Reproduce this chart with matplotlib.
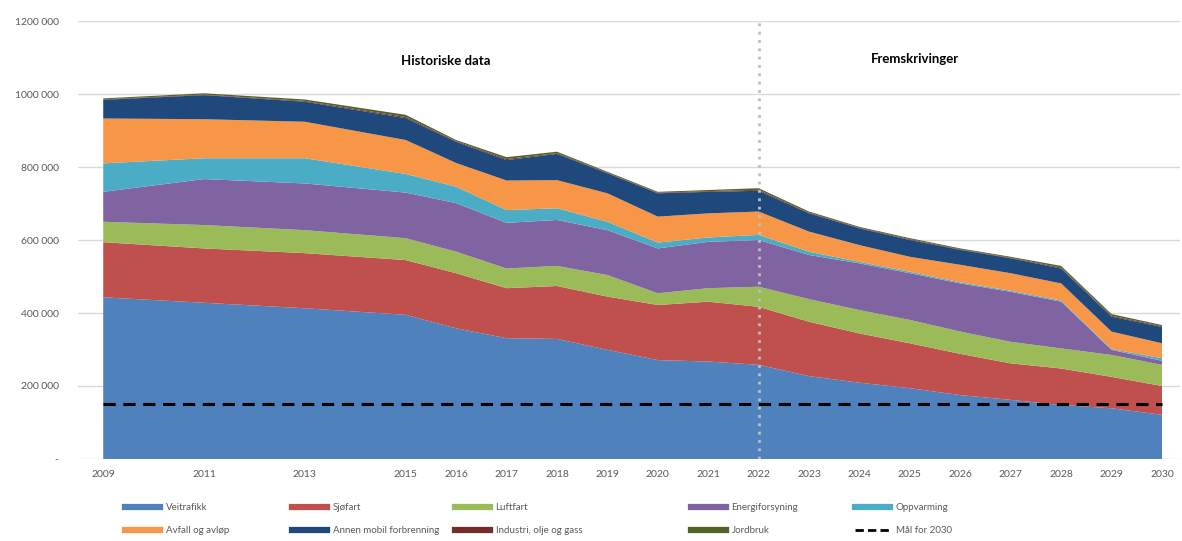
import matplotlib
matplotlib.use("Agg")
import matplotlib.pyplot as plt
from matplotlib.lines import Line2D
from matplotlib.ticker import FuncFormatter

plt.rcParams["font.family"] = ["Lato", "DejaVu Sans"]

# Data (tonn CO2-ekv.)
years = [2009, 2011, 2013, 2015, 2016, 2017, 2018, 2019, 2020, 2021, 2022,
         2023, 2024, 2025, 2026, 2027, 2028, 2029, 2030]
tick_years = years

veitrafikk = [443000, 428000, 413000, 395000, 358000, 331000, 329000, 299000, 271000, 267000,
              258000, 227000, 209000, 194000, 175000, 162000, 148000, 139000, 121000]
sjofart = [151000, 149000, 151000, 150000, 151000, 137000, 145000, 146000, 151000, 164000,
           159000, 149000, 135000, 123000, 113000, 100000, 100000, 86000, 79000]
luftfart = [56000, 64000, 63000, 60000, 59000, 54000, 55000, 59000, 32000, 37000,
            55000, 62000, 64000, 64000, 61000, 59000, 55000, 60000, 58000]
energiforsyning = [82000, 126000, 128000, 125000, 133000, 125000, 126000, 123000, 123000, 127000,
                   128000, 121000, 128000, 128000, 132000, 137000, 128000, 14000, 11000]
oppvarming = [78000, 57000, 69000, 51000, 45000, 35000, 32000, 23000, 16000, 12000,
              14000, 9000, 4000, 4000, 3000, 3000, 3000, 2000, 7000]
avfall = [123000, 107000, 100000, 93000, 65000, 81000, 77000, 78000, 71000, 66000,
          64000, 55000, 46000, 41000, 48000, 48000, 47000, 48000, 41000]
annen_mobil = [51000, 66000, 55000, 60000, 58000, 56000, 72000, 55000, 64000, 59000,
               57000, 50000, 46000, 46000, 41000, 41000, 41000, 41000, 45000]
industri = [1500, 1500, 2000, 3000, 2000, 3000, 2000, 1500, 1500, 2000,
            2500, 2000, 1500, 2000, 1500, 1500, 2500, 2500, 2000]
jordbruk = [2500, 3500, 4000, 6000, 3000, 5000, 4000, 2500, 2500, 3000,
            4500, 3000, 2500, 3000, 2500, 2500, 4500, 4500, 3000]

target_2030 = 150000
split_year = 2022

labels = ["Veitrafikk", "Sjøfart", "Luftfart", "Energiforsyning", "Oppvarming",
          "Avfall og avløp", "Annen mobil forbrenning", "Industri, olje og gass", "Jordbruk"]
colors = ["#4F81BD", "#C0504D", "#9BBB59", "#8064A2", "#4BACC6",
          "#F79646", "#1F497D", "#772C2A", "#4F6228"]

fig = plt.figure(figsize=(11.82, 5.41), dpi=100)
ax = fig.add_axes([0.066, 0.1516, 0.932, 0.8095])

ax.stackplot(years, veitrafikk, sjofart, luftfart, energiforsyning, oppvarming,
             avfall, annen_mobil, industri, jordbruk,
             colors=colors, labels=labels, linewidth=0)

ax.plot([years[0], years[-1]], [target_2030, target_2030], color="black",
        linestyle=(0, (4, 2.5)), linewidth=2.2, zorder=5)

ax.axvline(split_year, color="#BFBFBF", linestyle=(0, (1, 2)), linewidth=2, zorder=6)

ax.text(2015.8, 1090000, "Historiske data", fontsize=9.5, fontweight="bold", ha="center", va="center")
ax.text(2025.1, 1095000, "Fremskrivinger", fontsize=9.5, fontweight="bold", ha="center", va="center")

ax.set_xlim(2008.5, 2030.35)
ax.set_ylim(0, 1200000)
ax.set_yticks(range(0, 1200001, 200000))


def fmt(v, pos):
    if v == 0:
        return "-"
    v = int(v)
    return f"{v // 1000} {v % 1000:03d}"


ax.yaxis.set_major_formatter(FuncFormatter(fmt))
ax.set_xticks(tick_years)
ax.set_xticklabels([str(y) for y in tick_years])
ax.tick_params(axis="both", length=0, labelsize=7.5, colors="#595959")
ax.tick_params(axis="x", pad=8)
ax.tick_params(axis="y", pad=14)
ax.grid(axis="y", color="#D9D9D9", linewidth=1)
ax.set_axisbelow(True)
for s in ax.spines.values():
    s.set_visible(False)

# legend: one small legend per column, placed like the original
handles = [Line2D([], [], color=c, linewidth=4.5) for c in colors]
handles.append(Line2D([], [], color="black", linestyle=(0, (3, 1.5)), linewidth=2))
names = labels + ["Mål for 2030"]
col_x = [120, 287, 450, 686, 850]
W = 1182.0
for i, x in enumerate(col_x):
    idx = [i, i + 5]
    fig.legend([handles[j] for j in idx], [names[j] for j in idx],
               loc="upper left", bbox_to_anchor=((x - 3) / W, 0.084), frameon=False,
               fontsize=7, handlelength=3.6, labelcolor="#595959",
               handletextpad=0.6, labelspacing=1.45, borderpad=0.3)

fig.savefig("out.png", dpi=100)
